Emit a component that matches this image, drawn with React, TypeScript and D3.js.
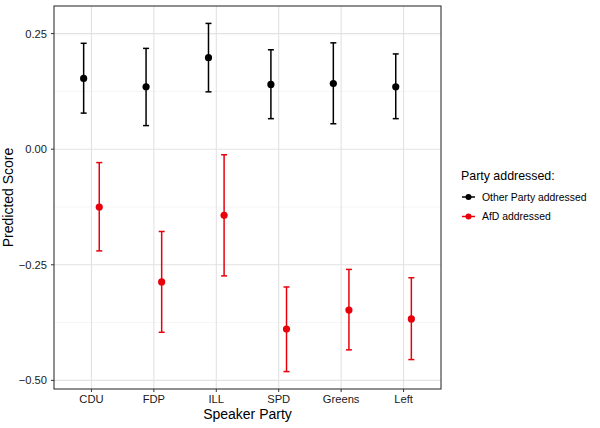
import * as React from 'react'
import * as d3 from 'd3'

const parties = ['CDU', 'FDP', 'ILL', 'SPD', 'Greens', 'Left']
const groups = ['Other Party addressed', 'AfD addressed']
const groupColors = ['#000000', '#e8000b']

// estimates
const otherFit = [0.153, 0.135, 0.198, 0.140, 0.142, 0.135]
const otherLow = [0.078, 0.051, 0.124, 0.066, 0.055, 0.066]
const otherHigh = [0.229, 0.218, 0.272, 0.215, 0.230, 0.206]
const afdFit = [-0.125, -0.287, -0.143, -0.389, -0.348, -0.367]
const afdLow = [-0.220, -0.396, -0.274, -0.481, -0.434, -0.455]
const afdHigh = [-0.029, -0.178, -0.012, -0.298, -0.260, -0.278]

const yTicks = [0.25, 0, -0.25, -0.5]
const yMinor = [0.125, -0.125, -0.375]

const W = 600
const H = 428
const margin = { left: 54, top: 6, right: 159, bottom: 39 }

export default function App() {
    const width = W - margin.left - margin.right
    const height = H - margin.top - margin.bottom
    const font = 'Liberation Sans, Arial, sans-serif'

    const lo = Math.min(...otherLow, ...afdLow)
    const hi = Math.max(...otherHigh, ...afdHigh)
    const pad = (hi - lo) * 0.05
    const y = d3.scaleLinear().domain([lo - pad, hi + pad]).range([height, 0])
    const x = d3.scaleLinear().domain([0.4, parties.length + 0.6]).range([0, width])
    const dodge = 0.125

    const series = [
        { fit: otherFit, low: otherLow, high: otherHigh },
        { fit: afdFit, low: afdLow, high: afdHigh },
    ]

    return <svg width={W} height={H} style={{ position: 'absolute', left: 0, top: 0, background: '#fff' }} fontFamily={font}>
        <g transform={`translate(${margin.left}, ${margin.top})`}>
            {yMinor.map(t => <line key={'m' + t} x1={0} x2={width} y1={y(t)} y2={y(t)} stroke='#f0f0f0' strokeWidth={0.7} />)}
            {yTicks.map(t => <line key={'g' + t} x1={0} x2={width} y1={y(t)} y2={y(t)} stroke='#e2e2e2' strokeWidth={1.1} />)}
            {parties.map((p, i) => <line key={'v' + p} x1={x(i + 1)} x2={x(i + 1)} y1={0} y2={height} stroke='#e2e2e2' strokeWidth={1.1} />)}

            {series.map((s, gi) => {
                const off = gi === 0 ? -dodge : dodge
                const col = groupColors[gi]
                return <g key={gi}>
                    {parties.map((p, i) => {
                        const cx = x(i + 1 + off)
                        return <g key={p}>
                            <line x1={cx} x2={cx} y1={y(s.low[i])} y2={y(s.high[i])} stroke={col} strokeWidth={1.5} />
                            <line x1={cx - 3} x2={cx + 3} y1={y(s.low[i])} y2={y(s.low[i])} stroke={col} strokeWidth={1.5} />
                            <line x1={cx - 3} x2={cx + 3} y1={y(s.high[i])} y2={y(s.high[i])} stroke={col} strokeWidth={1.5} />
                            <circle cx={cx} cy={y(s.fit[i])} r={3.6} fill={col} />
                        </g>
                    })}
                </g>
            })}

            <rect x={0} y={0} width={width} height={height} fill='none' stroke='#333333' strokeWidth={1.1} />

            {yTicks.map(t => <g key={'t' + t}>
                <line x1={-3} x2={0} y1={y(t)} y2={y(t)} stroke='#333333' strokeWidth={1} />
                <text x={-7} y={y(t)} dy='0.35em' textAnchor='end' fontSize={11.2} fill='#1a1a1a'>{d3.format('.2f')(t)}</text>
            </g>)}
            {parties.map((p, i) => <g key={'x' + p}>
                <line x1={x(i + 1)} x2={x(i + 1)} y1={height} y2={height + 3} stroke='#333333' strokeWidth={1} />
                <text x={x(i + 1)} y={height + 14} textAnchor='middle' fontSize={11.2} fill='#1a1a1a'>{p}</text>
            </g>)}

            <text x={width / 2} y={height + 30} textAnchor='middle' fontSize={14}>Speaker Party</text>
            <text transform={`translate(${-41}, ${height / 2}) rotate(-90)`} textAnchor='middle' fontSize={14}>Predicted Score</text>
        </g>

        <g transform='translate(461, 0)'>
            <text x={0} y={179.5} fontSize={12.4}>Party addressed:</text>
            {groups.map((g, gi) => {
                const ly = 197 + gi * 19.5
                return <g key={g}>
                    <line x1={1} x2={14} y1={ly} y2={ly} stroke={groupColors[gi]} strokeWidth={1.5} />
                    <circle cx={7.5} cy={ly} r={3} fill={groupColors[gi]} />
                    <text x={21} y={ly} dy='0.35em' fontSize={10.4}>{g}</text>
                </g>
            })}
        </g>
    </svg>
}
